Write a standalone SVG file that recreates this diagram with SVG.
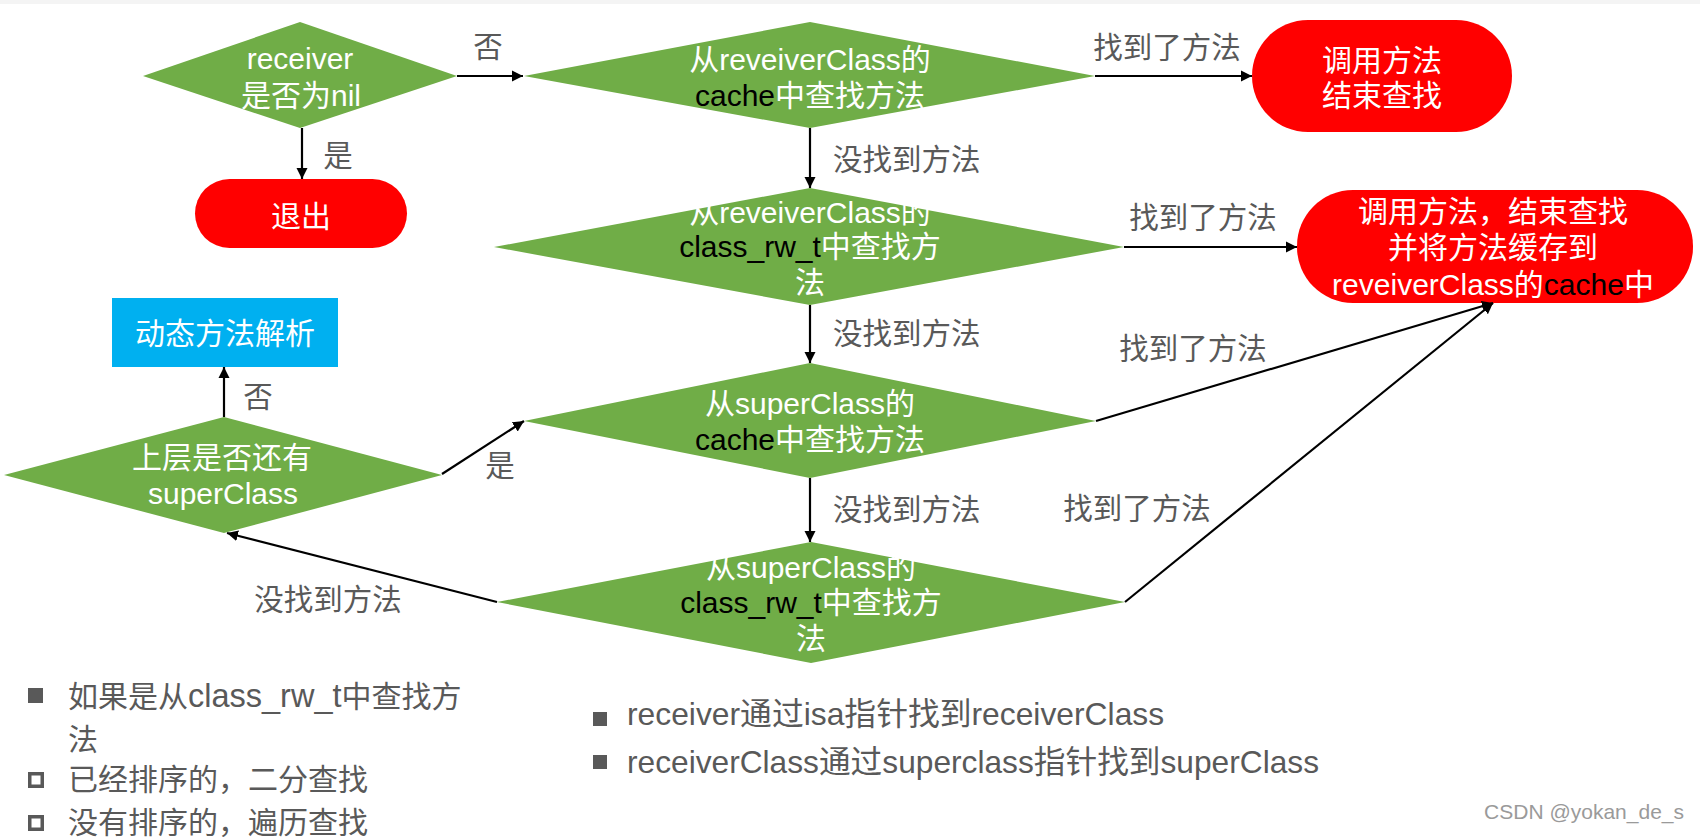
<svg xmlns="http://www.w3.org/2000/svg" width="1700" height="838" viewBox="0 0 1700 838">
<style>
.t{font-family:"Liberation Sans","Noto Sans CJK SC",sans-serif;font-size:30px;fill:#fff;text-anchor:middle}
.lb{font-family:"Liberation Sans","Noto Sans CJK SC",sans-serif;font-size:29.5px;fill:#595959}
.bt{font-family:"Liberation Sans","Noto Sans CJK SC",sans-serif;font-size:30px;fill:#595959}
.k{fill:#000}
.dia{fill:#70ad47}
.red{fill:#ff0000}
.conn line{stroke:#000;stroke-width:2.2;marker-end:url(#ah)}
</style>
<defs>
<marker id="ah" markerUnits="userSpaceOnUse" markerWidth="12" markerHeight="12" refX="11" refY="6" orient="auto">
<path d="M0,0.5 L11,6 L0,11.5 z" fill="#000"/>
</marker>
</defs>
<rect x="0" y="0" width="1700" height="838" fill="#fff"/>
<rect x="0" y="0" width="1700" height="4" fill="#f4f4f4"/>

<g id="n-receiver">
<polygon class="dia" points="143,76 300,22 457,76 300,128"/>
<text class="t" x="300" y="69">receiver</text>
<text class="t" x="301" y="106">是否为nil</text>
</g>
<g id="n-exit">
<rect class="red" x="195" y="179" width="212" height="69" rx="34.5"/>
<text class="t" x="301" y="227">退出</text>
</g>
<g id="n-cache1">
<polygon class="dia" points="524,76 810,22 1095,76 810,128"/>
<text class="t" x="810" y="70">从reveiverClass的</text>
<text class="t" x="810" y="106"><tspan class="k">cache</tspan>中查找方法</text>
</g>
<g id="n-call1">
<rect class="red" x="1252" y="20" width="260" height="112" rx="56"/>
<text class="t" x="1382" y="71">调用方法</text>
<text class="t" x="1382" y="106">结束查找</text>
</g>
<g id="n-rw1">
<polygon class="dia" points="494,247 810,188 1124,247 810,305"/>
<text class="t" x="810" y="223">从reveiverClass的</text>
<text class="t" x="810" y="257"><tspan class="k">class_rw_t</tspan>中查找方</text>
<text class="t" x="810" y="293">法</text>
</g>
<g id="n-call2">
<rect class="red" x="1297" y="190" width="396" height="113" rx="56"/>
<text class="t" x="1493" y="222">调用方法，结束查找</text>
<text class="t" x="1493" y="258">并将方法缓存到</text>
<text class="t" x="1493" y="295">reveiverClass的<tspan class="k">cache</tspan>中</text>
</g>
<g id="n-cache2">
<polygon class="dia" points="524,421 810,363 1096,421 810,478"/>
<text class="t" x="810" y="414">从superClass的</text>
<text class="t" x="810" y="450"><tspan class="k">cache</tspan>中查找方法</text>
</g>
<g id="n-rw2">
<polygon class="dia" points="497,602 811,542 1125,602 811,663"/>
<text class="t" x="811" y="578">从superClass的</text>
<text class="t" x="811" y="613"><tspan class="k">class_rw_t</tspan>中查找方</text>
<text class="t" x="811" y="649">法</text>
</g>
<g id="n-super">
<polygon class="dia" points="4,475 224,417 442,475 224,533"/>
<text class="t" x="222" y="468">上层是否还有</text>
<text class="t" x="223" y="504">superClass</text>
</g>
<g id="n-dynamic">
<rect x="112" y="298" width="226" height="69" fill="#00b0f0"/>
<text class="t" x="225" y="344">动态方法解析</text>
</g>

<g id="connectors" class="conn">
<line x1="457" y1="76" x2="523" y2="76"/>
<line x1="302" y1="128" x2="302" y2="179"/>
<line x1="1095" y1="76" x2="1252" y2="76"/>
<line x1="810" y1="128" x2="810" y2="188"/>
<line x1="1124" y1="247" x2="1297" y2="247"/>
<line x1="810" y1="305" x2="810" y2="363"/>
<line x1="1096" y1="421" x2="1493" y2="303"/>
<line x1="810" y1="478" x2="810" y2="542"/>
<line x1="1125" y1="602" x2="1493" y2="303"/>
<line x1="497" y1="602" x2="227" y2="533"/>
<line x1="442" y1="474" x2="524" y2="421"/>
<line x1="224" y1="417" x2="224" y2="367"/>
</g>

<g id="labels">
<text class="lb" x="488" y="57" text-anchor="middle">否</text>
<text class="lb" x="338" y="166" text-anchor="middle">是</text>
<text class="lb" x="1167" y="58" text-anchor="middle">找到了方法</text>
<text class="lb" x="833" y="170">没找到方法</text>
<text class="lb" x="1203" y="228" text-anchor="middle">找到了方法</text>
<text class="lb" x="833" y="344">没找到方法</text>
<text class="lb" x="1193" y="359" text-anchor="middle">找到了方法</text>
<text class="lb" x="833" y="520">没找到方法</text>
<text class="lb" x="1137" y="519" text-anchor="middle">找到了方法</text>
<text class="lb" x="328" y="610" text-anchor="middle">没找到方法</text>
<text class="lb" x="500" y="476" text-anchor="middle">是</text>
<text class="lb" x="258" y="407" text-anchor="middle">否</text>
</g>

<g id="notes">
<rect x="28" y="688" width="15" height="15" fill="#595959"/>
<text class="bt" x="68" y="707">如果是从<tspan style="font-size:32.5px">class_rw_t</tspan>中查找方</text>
<text class="bt" x="68" y="750">法</text>
<rect x="29.75" y="773.75" width="12.5" height="12.5" fill="none" stroke="#595959" stroke-width="3.5"/>
<text class="bt" x="68" y="790">已经排序的，二分查找</text>
<rect x="29.75" y="816.75" width="12.5" height="12.5" fill="none" stroke="#595959" stroke-width="3.5"/>
<text class="bt" x="68" y="833">没有排序的，遍历查找</text>
<rect x="593" y="712" width="14" height="14" fill="#595959"/>
<text class="bt" x="627" y="725" style="font-size:31.8px">receiver通过isa指针找到receiverClass</text>
<rect x="593" y="755" width="14" height="14" fill="#595959"/>
<text class="bt" x="627" y="773" style="font-size:31.7px">receiverClass通过superclass指针找到superClass</text>
<text x="1684" y="819" text-anchor="end" style="font-family:'Liberation Sans','Noto Sans CJK SC',sans-serif;font-size:21px;fill:#9a9a9a">CSDN @yokan_de_s</text>
</g>
</svg>
